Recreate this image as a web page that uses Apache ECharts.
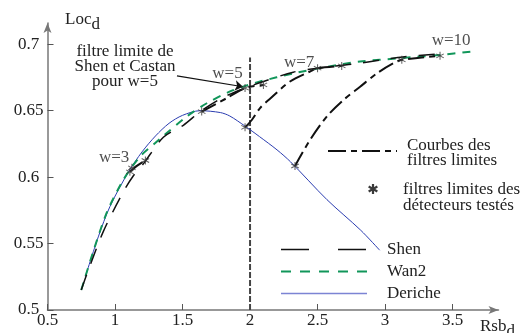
<!DOCTYPE html>
<html>
<head>
<meta charset="utf-8">
<script src="https://cdn.jsdelivr.net/npm/echarts@6/dist/echarts.min.js"></script>
<style>
  html, body { margin: 0; padding: 0; background: #fff; }
  #chart { width: 530px; height: 333px; }
</style>
</head>
<body>
<div id="chart"></div>
<script>
// Rsb_d / Loc_d points
var derichePts = [[0.78,0.525],[0.876,0.555],[0.963,0.578],[1.1,0.604],[1.2,0.619],[1.3,0.631],[1.4,0.6405],[1.5,0.6465],[1.63,0.650],[1.78,0.6486],[1.85,0.646],[1.96,0.6386],[2.07,0.6305],[2.2,0.6205],[2.3,0.6115],[2.57,0.583],[2.82,0.560],[2.96,0.545]];
var wan2Pts = [[0.75,0.515],[0.926,0.570],[1.062,0.598],[1.185,0.6155],[1.296,0.6255],[1.358,0.631],[1.531,0.6456],[1.68,0.6556],[1.852,0.6645],[1.975,0.669],[2.074,0.672],[2.32,0.678],[2.568,0.683],[2.815,0.687],[3.11,0.6895],[3.41,0.692],[3.64,0.6945]];
var shenPts = [[0.75,0.515],[0.795,0.528],[0.913,0.559],[1.062,0.589],[1.136,0.601],[1.21,0.610],[1.358,0.630],[1.506,0.639],[1.64,0.650],[1.8,0.660],[1.963,0.667],[2.1,0.672],[2.32,0.679],[2.5,0.682],[2.76,0.685],[3.01,0.6888],[3.13,0.6905],[3.41,0.6928]];

// courbes des filtres limites
var limit3 = [[1.11,0.604],[1.17,0.609],[1.235,0.613]];
var limit5 = [[1.642,0.6493],[1.827,0.6594],[1.963,0.667],[2.1,0.6694]];
var limitA = [[1.963,0.6375],[2.013,0.643],[2.074,0.652],[2.148,0.659],[2.296,0.672],[2.444,0.6795],[2.5,0.682],[2.679,0.6837]];
var limitB = [[2.333,0.6084],[2.444,0.628],[2.568,0.6456],[2.691,0.658],[2.815,0.668],[2.938,0.678],[3.062,0.6857],[3.124,0.6883],[3.407,0.6913]];

// filtres limites des détecteurs testés
var starPts = [[1.11,0.604],[1.125,0.607],[1.225,0.6125],[1.642,0.6493],[1.963,0.667],[2.099,0.6694],[1.963,0.6375],[2.333,0.6084],[2.5,0.682],[2.679,0.6837],[3.124,0.6883],[3.407,0.6913]];

var wLabels = [[0.993,0.6145,'w=3'],[1.833,0.6777,'w=5'],[2.363,0.6864,'w=7'],[3.489,0.7026,'w=10']];
var arrowFrom = [1.459,0.6762];
var arrowTo = [1.948,0.668];
var vLine = [[2,0.5],[2,0.69]];

var xTicks = [0.5,1,1.5,2,2.5,3,3.5];
var yTicks = [0.5,0.55,0.6,0.65,0.7];

var serif = 'Liberation Serif';
var starPath = 'path://M-1.2,-10L1.2,-10L1.2,10L-1.2,10Z M8.06,-6.04L9.26,-3.96L-8.06,6.04L-9.26,3.96Z M9.26,3.96L8.06,6.04L-9.26,-3.96L-8.06,-6.04Z';

var chart = echarts.init(document.getElementById('chart'));

function limitSeries(data) {
    return {
        name: 'limites',
        type: 'line',
        data: data,
        smooth: 0.3,
        symbol: 'none',
        z: 4,
        lineStyle: {color: '#111', width: 2, type: [16, 5, 6, 5]}
    };
}

function starArm(angle) {
    return {type: 'rect', rotation: angle, shape: {x: -1.1, y: -5, width: 2.2, height: 10}, style: {fill: '#3a3a3a'}};
}

var option = {
    animation: false,
    grid: {left: 47.5, top: 23, width: 451, height: 287},
    legend: {
        orient: 'vertical',
        left: 275,
        top: 236,
        itemWidth: 86,
        itemHeight: 14,
        itemGap: 5,
        itemStyle: {opacity: 0},
        textStyle: {fontFamily: serif, fontSize: 17, color: '#222', lineHeight: 16, padding: [0, 0, 0, 15]},
        data: [
            {name: 'Shen', lineStyle: {type: [28, 29], width: 1.5, opacity: 1}},
            {name: 'Wan2', lineStyle: {type: [10, 9], width: 2, opacity: 1}},
            {name: 'Deriche', lineStyle: {width: 1.5, color: '#7c84d4', opacity: 1}}
        ]
    },
    xAxis: {
        type: 'value',
        min: 0.5,
        max: 3.84,
        splitLine: {show: false},
        axisLine: {lineStyle: {color: '#777', width: 1.5}, symbol: ['none', 'arrow'], symbolSize: [6, 10]},
        axisTick: {inside: true, length: 6, lineStyle: {color: '#555'}, customValues: xTicks},
        axisLabel: {customValues: xTicks, fontFamily: serif, fontSize: 17, color: '#222', margin: 2}
    },
    yAxis: {
        type: 'value',
        min: 0.5,
        max: 0.716,
        splitLine: {show: false},
        axisLine: {lineStyle: {color: '#777', width: 1.5}, symbol: ['none', 'arrow'], symbolSize: [6, 10]},
        axisTick: {inside: true, length: 6, lineStyle: {color: '#555'}, customValues: yTicks},
        axisLabel: {customValues: yTicks, fontFamily: serif, fontSize: 17, color: '#222', align: 'center', margin: 19}
    },
    graphic: [
        {type: 'text', x: 65, y: 6, style: {
            text: '{a|Loc}{b|d}', fill: '#222',
            rich: {a: {fontFamily: serif, fontSize: 17}, b: {fontFamily: serif, fontSize: 17, padding: [10, 0, 0, 0]}}
        }},
        {type: 'text', x: 480, y: 313, style: {
            text: '{a|Rsb}{b|d}', fill: '#222',
            rich: {a: {fontFamily: serif, fontSize: 17}, b: {fontFamily: serif, fontSize: 17, padding: [10, 0, 0, 0]}}
        }},
        {type: 'text', x: 125, y: 44, style: {
            text: 'filtre limite de\nShen et Castan\npour w=5', fill: '#222', align: 'center',
            font: '17px "Liberation Serif"', lineHeight: 15
        }},
        {type: 'line', shape: {x1: 328, y1: 151, x2: 397, y2: 151},
            style: {stroke: '#111', lineWidth: 2, lineDash: [18, 5, 6, 5]}},
        {type: 'text', x: 407, y: 138, style: {
            text: 'Courbes des\nfiltres limites', fill: '#222', font: '17px "Liberation Serif"', lineHeight: 15
        }},
        {type: 'group', x: 373, y: 189, children: [starArm(0), starArm(Math.PI / 3), starArm(2 * Math.PI / 3)]},
        {type: 'text', x: 403, y: 182, style: {
            text: 'filtres limites des\ndétecteurs testés', fill: '#222', font: '17px "Liberation Serif"', lineHeight: 16
        }}
    ],
    series: [
        {
            name: 'Deriche', type: 'line', data: derichePts, smooth: 0.3, symbol: 'none', z: 2,
            itemStyle: {color: '#2a3cb0'},
            lineStyle: {color: '#2a3cb0', width: 1}
        },
        {
            name: 'Wan2', type: 'line', data: wan2Pts, smooth: 0.3, symbol: 'none', z: 3,
            itemStyle: {color: '#11965a'},
            lineStyle: {color: '#11965a', width: 2, type: [8, 7]}
        },
        {
            name: 'Shen', type: 'line', data: shenPts, smooth: 0.3, symbol: 'none', z: 3,
            itemStyle: {color: '#111'},
            lineStyle: {color: '#111', width: 1.5, type: [16, 12]}
        },
        limitSeries(limit3),
        limitSeries(limit5),
        limitSeries(limitA),
        limitSeries(limitB),
        {
            name: 'x2', type: 'line', data: vLine, symbol: 'none', z: 1,
            lineStyle: {color: '#444', width: 2, type: [6, 2]},
            markLine: {
                silent: true, symbol: ['none', 'arrow'], symbolSize: 8,
                label: {show: false},
                lineStyle: {color: '#111', width: 1.2, type: 'solid'},
                data: [[{coord: arrowFrom}, {coord: arrowTo}]]
            }
        },
        {
            name: 'stars', type: 'scatter', data: starPts, symbol: starPath, symbolSize: 8, z: 6,
            itemStyle: {color: '#3a3a3a'}
        },
        {
            name: 'wlabels', type: 'scatter', data: wLabels, symbolSize: 0, z: 7,
            label: {
                show: true, position: 'inside', color: '#222', fontFamily: serif, fontSize: 17,
                formatter: function(p) { return p.value[2]; }
            }
        }
    ]
};

chart.setOption(option);
</script>
</body>
</html>
